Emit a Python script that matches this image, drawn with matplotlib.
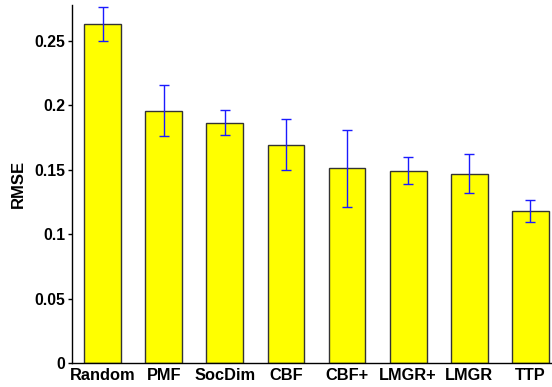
import numpy as np
import matplotlib
matplotlib.use("Agg")
from matplotlib import pyplot as plt
from matplotlib.ticker import FuncFormatter

# RMSE per method
methods = ["Random", "PMF", "SocDim", "CBF", "CBF+", "LMGR+", "LMGR", "TTP"]
rmse = [0.263, 0.196, 0.1865, 0.1695, 0.1512, 0.1494, 0.1470, 0.1178]
err = [0.0132, 0.0200, 0.0097, 0.0200, 0.0300, 0.0103, 0.0150, 0.0084]

plt.rcParams['font.family'] = ['Liberation Sans', 'DejaVu Sans']
plt.rcParams['font.weight'] = 'bold'

fig = plt.figure(figsize=(5.52, 3.87), dpi=100)
# axes runs a little past the right edge, like the cropped original
ax = fig.add_axes([72 / 552, 24 / 387, 489 / 552, 358 / 387])

x = np.arange(1, len(methods) + 1)
ax.bar(x, rmse, width=0.6, color="#ffff00", edgecolor="#333333", linewidth=1.0)
ax.errorbar(x, rmse, yerr=err, fmt="none", ecolor="#1a1aff", elinewidth=1.0,
            capsize=3.3, capthick=1.0)

ax.set_xlim(0.5, 8.5)
ax.set_ylim(0, 0.278)
ax.set_yticks([0, 0.05, 0.1, 0.15, 0.2, 0.25])
ax.yaxis.set_major_formatter(FuncFormatter(lambda v, p: "%g" % v))
ax.set_xticks(x)
ax.set_xticklabels(methods)

ax.spines["top"].set_visible(False)
ax.spines["right"].set_visible(False)
ax.spines["left"].set_linewidth(1.0)
ax.spines["bottom"].set_linewidth(1.0)
ax.tick_params(axis="y", direction="out", length=3, width=1, labelsize=11.3, pad=2)
ax.tick_params(axis="x", length=0, labelsize=11.8, pad=3.5)
for lab in ax.get_xticklabels() + ax.get_yticklabels():
    lab.set_fontweight("bold")

ax.set_ylabel("RMSE", fontsize=12, fontweight="bold", labelpad=6)

fig.savefig("out.png", dpi=100)
